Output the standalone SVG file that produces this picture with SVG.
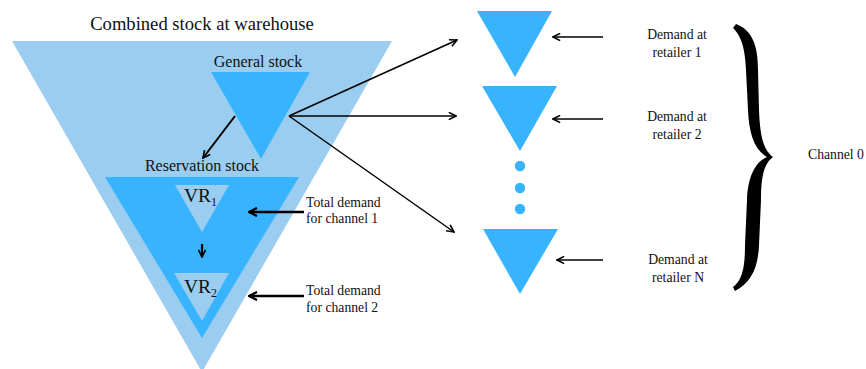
<svg xmlns="http://www.w3.org/2000/svg" width="866" height="369" viewBox="0 0 866 369">
  <style>
    .light { fill: #9ACDF0; }
    .bright { fill: #38B4FE; }
    text { font-family: "Liberation Serif", "Times New Roman", serif; fill: #111; }
    .title { font-size: 18.6px; }
    .lbl { font-size: 16px; }
    .vr { font-size: 19.5px; }
    .sub { font-size: 12px; }
    .small { font-size: 13.7px; }
    .conn { stroke: #000; fill: none; }
  </style>
  <defs>
    <marker id="head" markerUnits="userSpaceOnUse" viewBox="0 0 10 10" refX="9" refY="5" markerWidth="9" markerHeight="9" orient="auto">
      <path d="M1,1 L9,5 L1,9" fill="none" stroke="#000" stroke-width="1.8"/>
    </marker>
    <marker id="headBold" markerUnits="userSpaceOnUse" viewBox="0 0 10 10" refX="9" refY="5" markerWidth="10" markerHeight="10" orient="auto">
      <path d="M1,1 L9,5 L1,9" fill="none" stroke="#000" stroke-width="2.4"/>
    </marker>
  </defs>

  <rect width="866" height="369" fill="#fff"/>

  <!-- Warehouse: combined stock -->
  <g id="combined-stock">
    <polygon class="light" points="12,41 392,41 202,372"/>
    <text class="title" x="202" y="30" text-anchor="middle">Combined stock at warehouse</text>
  </g>

  <g id="general-stock">
    <polygon class="bright" points="211,72 310,72 261,159"/>
    <text class="lbl" x="258" y="67" text-anchor="middle">General stock</text>
  </g>

  <g id="reservation-stock">
    <polygon class="bright" points="105,177 299,177 202,338"/>
    <text class="lbl" x="202" y="171" text-anchor="middle">Reservation stock</text>
  </g>

  <g id="vr1">
    <polygon class="light" points="175,185 229,185 202,232"/>
    <text class="vr" x="184" y="202">VR<tspan class="sub" dy="4">1</tspan></text>
  </g>

  <g id="vr2">
    <polygon class="light" points="174,273 229,273 202,321"/>
    <text class="vr" x="184" y="293">VR<tspan class="sub" dy="4">2</tspan></text>
  </g>

  <g id="channel-demands">
    <text class="small" x="306" y="207">Total demand</text>
    <text class="small" x="306" y="223">for channel 1</text>
    <text class="small" x="306" y="295">Total demand</text>
    <text class="small" x="306" y="312">for channel 2</text>
  </g>

  <!-- Retailers -->
  <g id="retailer-1">
    <polygon class="bright" points="477,11 552,11 515,77"/>
    <text class="small" x="677" y="39" text-anchor="middle">Demand at</text>
    <text class="small" x="677" y="57" text-anchor="middle">retailer 1</text>
  </g>

  <g id="retailer-2">
    <polygon class="bright" points="482,86 557,86 520,151"/>
    <text class="small" x="677" y="121" text-anchor="middle">Demand at</text>
    <text class="small" x="677" y="139" text-anchor="middle">retailer 2</text>
  </g>

  <g id="ellipsis">
    <circle class="bright" cx="520" cy="166" r="5.2"/>
    <circle class="bright" cx="520" cy="188" r="5.2"/>
    <circle class="bright" cx="520" cy="209" r="5.2"/>
  </g>

  <g id="retailer-n">
    <polygon class="bright" points="483,229 558,229 520,294"/>
    <text class="small" x="678" y="264" text-anchor="middle">Demand at</text>
    <text class="small" x="678" y="282" text-anchor="middle">retailer N</text>
  </g>

  <g id="channel-0">
    <path fill="#000" d="M736,24 C752,30 758,45 758,70 L759,110 C760,135 763,150 773,157 C763,164 761,180 761,200 L759,245 C758,270 750,283 735,291 L733,287 C743,280 745,265 745,245 L747,200 C748,175 756,162 767,157 C755,150 749,135 748,110 L746,70 C745,45 740,35 733,28 Z"/>
    <text class="small" x="808" y="159">Channel 0</text>
  </g>

  <!-- Connectors -->
  <g id="connectors">
    <line class="conn" stroke-width="2" x1="235" y1="116" x2="203" y2="158" marker-end="url(#head)"/>
    <line class="conn" stroke-width="2.2" x1="202" y1="244" x2="202" y2="257" marker-end="url(#head)"/>
    <line class="conn" stroke-width="2.4" x1="304" y1="212" x2="249" y2="212" marker-end="url(#headBold)"/>
    <line class="conn" stroke-width="2.4" x1="304" y1="296" x2="249" y2="296" marker-end="url(#headBold)"/>
    <line class="conn" stroke-width="1.5" x1="289" y1="116" x2="457" y2="40" marker-end="url(#head)"/>
    <line class="conn" stroke-width="1.5" x1="289" y1="116" x2="456" y2="116" marker-end="url(#head)"/>
    <line class="conn" stroke-width="1.5" x1="289" y1="116" x2="454" y2="232" marker-end="url(#head)"/>
    <line class="conn" stroke-width="1.6" x1="603" y1="37" x2="553" y2="37" marker-end="url(#head)"/>
    <line class="conn" stroke-width="1.6" x1="603" y1="119" x2="553" y2="119" marker-end="url(#head)"/>
    <line class="conn" stroke-width="1.6" x1="603" y1="260" x2="557" y2="260" marker-end="url(#head)"/>
  </g>
</svg>
